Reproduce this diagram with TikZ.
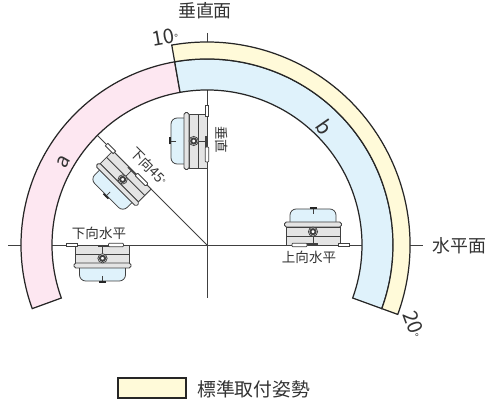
\documentclass[tikz,border=0pt]{standalone}
\usepackage{fontspec}
\setmainfont{Noto Sans CJK JP}

\definecolor{bandpink}{HTML}{FDE7F1}
\definecolor{bandblue}{HTML}{DFF2FB}
\definecolor{bandyellow}{HTML}{FFFAD9}
\definecolor{unitgray}{HTML}{E4E4E4}
\definecolor{labelgray}{HTML}{333333}

\tikzset{
	bandline/.style={line width=0.7pt, draw=black!85},
	axisline/.style={line width=0.55pt, draw=black!75},
	unitline/.style={line width=0.45pt, draw=black!75},
	biglabel/.style={text=labelgray, font=\fontsize{10.2pt}{12pt}\selectfont, inner sep=0pt},
	smalllabel/.style={text=labelgray, font=\fontsize{7.7pt}{9pt}\selectfont, inner sep=0pt},
	anglelabel/.style={text=labelgray, font=\fontsize{11.5pt}{14pt}\selectfont, inner sep=0pt},
	mountunit/.pic={
		% dome
		\draw[unitline, fill=bandblue, rounded corners=3.5] (-23,23) -- (-23,36) -- (23,36) -- (23,23);
		% plate, body and flange
		\draw[unitline, fill=unitgray] (-27,0) rectangle (27,18);
		\draw[unitline] (-27,9) -- (27,9);
		\draw[unitline, fill=unitgray, rounded corners=1] (-28.5,18) rectangle (28.5,23);
		% centre line and cross
		\draw[unitline] (0,0) -- (0,13.3);
		\draw[unitline] (0,31) -- (0,38);
		\draw[line width=0.9pt, black!85] (-3.5,37) -- (3.5,37);
		% bolt
		\draw[unitline, fill=white] (0,13.3) circle (4.6);
		\draw[line width=1.1pt, black!75] (0,13.3) circle (2.6);
		% feet
		\draw[unitline, fill=white, rounded corners=0.5] (-21,-1.8) rectangle (-6,1.8);
		\draw[unitline, fill=white] (25,-1.8) rectangle (36,1.8);
		\draw[line width=0.6pt, black!75] (-6,1) -- (5,1);
	}
}

\begin{document}
\begin{tikzpicture}[x=0.02cm, y=0.02cm]
	\useasboundingbox (0,0) rectangle (486,405);
	
	% Centre of the arcs
	\coordinate (o) at (207,160);
	
	% Axes and the 45 degree line
	\coordinate (axisW) at (8,160);
	\coordinate (axisE) at (423,160);
	\coordinate (axisN) at (207,372);
	\coordinate (axisS) at (207,107);
	\draw[axisline] (axisW) -- (axisE);
	\draw[axisline] (axisN) -- (axisS);
	\draw[axisline] (o) -- ++(135:155);
	
	\begin{scope}[shift={(o)}]
		% Band a
		\draw[bandline, fill=bandpink] (100:155) arc[start angle=100, end angle=200, radius=155]
			-- (200:186) arc[start angle=200, end angle=100, radius=186] -- cycle;
		% Band b
		\draw[bandline, fill=bandblue] (100:155) arc[start angle=100, end angle=-20, radius=155]
			-- (-20:186) arc[start angle=-20, end angle=100, radius=186] -- cycle;
		% Standard band
		\draw[bandline, fill=bandyellow] (100:186) arc[start angle=100, end angle=-20, radius=186]
			-- (-20:203) arc[start angle=-20, end angle=100, radius=203] -- cycle;
		
		% The four units
		\pic[rotate=180] at (-104.5,0) {mountunit};
		\pic[rotate=135] at (135:106) {mountunit};
		\pic[rotate=90] at (0,104) {mountunit};
		\pic at (106,0) {mountunit};
	\end{scope}
	
	% Labels of the axes
	\node[biglabel] (vertlabel) at (205,394.5) {垂直面};
	\node[biglabel, anchor=west] (horizlabel) at (432,159) {水平面};
	
	% Labels of the units
	\node[smalllabel] (downhoriz) at (99,172) {下向水平};
	\node[smalllabel] (uphoriz) at (309,148) {上向水平};
	\node[smalllabel, rotate=-45] (down45) at (149,239) {下向45{\fontsize{5pt}{5pt}\selectfont °}};
	\node[smalllabel, rotate=-90] (vertunit) at (222,265) {垂直};
	
	% Labels of the bands
	\node[anglelabel, rotate=60] (banda) at (64,243) {a};
	\node[anglelabel, rotate=-55] (bandb) at (325,278) {b};
	\node[anglelabel, rotate=10] (tenlabel) at (165,368) {10{\fontsize{6pt}{6pt}\selectfont °}};
	\node[anglelabel, rotate=-70] (twentylabel) at (414,81) {20{\fontsize{6pt}{6pt}\selectfont °}};
	
	% Legend
	\node[draw=black!85, line width=0.6pt, fill=bandyellow, minimum width=68*0.02cm, minimum height=20*0.02cm, inner sep=0pt] (legendbox) at (152,17) {};
	\node[biglabel, anchor=west, font=\fontsize{10.7pt}{12pt}\selectfont] (legendtext) at (197,16) {標準取付姿勢};
\end{tikzpicture}
\end{document}
